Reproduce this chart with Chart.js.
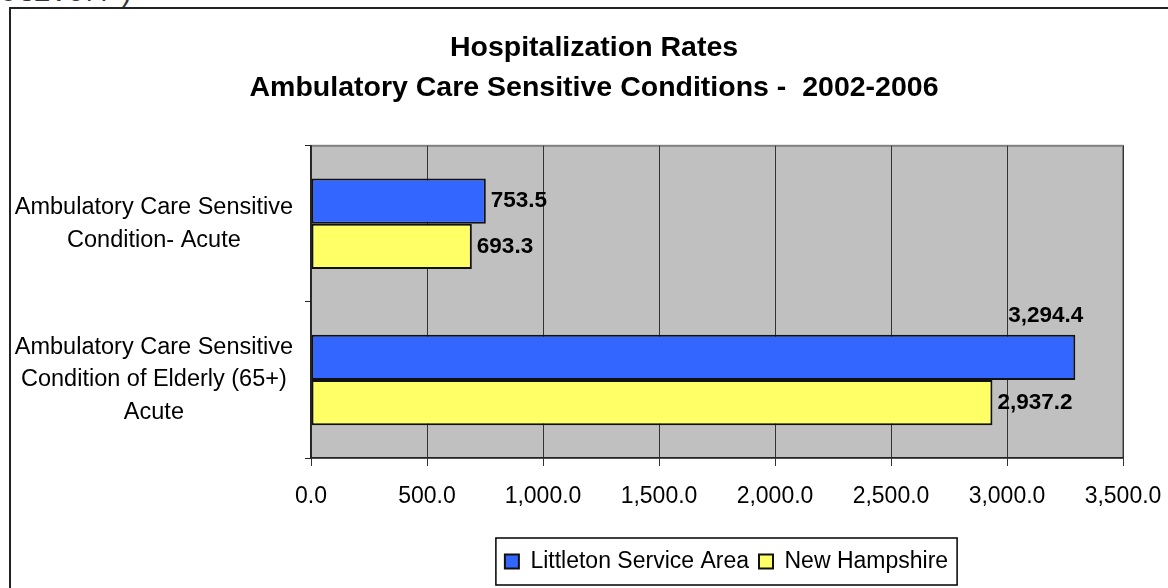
<!DOCTYPE html>
<html>
<head>
<meta charset="utf-8">
<script src="https://cdn.jsdelivr.net/npm/chart.js@4.4.0/dist/chart.umd.min.js"></script>
<style>
body{margin:0;background:#fff;overflow:hidden;width:1168px;height:588px;position:relative;font-family:Arial,"Liberation Sans",sans-serif}
#cut{position:absolute;left:0;top:-22px;font:28px "Liberation Mono",monospace;color:#333;white-space:nowrap}
#frame{position:absolute;left:9px;top:7px;width:1200px;height:700px;border-left:2px solid #222;border-top:2px solid #222}
#chart{position:absolute;left:0;top:0}
</style>
</head>
<body>
<div id="cut">otiver/)</div>
<div id="frame"></div>
<canvas id="chart" width="1168" height="588"></canvas>
<script>
// chart data
var categories = [
  ["Ambulatory Care Sensitive", "Condition- Acute"],
  ["Ambulatory Care Sensitive", "Condition of Elderly (65+)", "Acute"]
];
var seriesNames = ["Littleton Service Area", "New Hampshire"];
var littleton = [753.5, 3294.4];
var newHampshire = [693.3, 2937.2];
var tickValues = [0, 500, 1000, 1500, 2000, 2500, 3000, 3500];
var titleLines = ["Hospitalization Rates", "Ambulatory Care Sensitive Conditions -  2002-2006"];

var FONT = 'Arial, "Liberation Sans", sans-serif';

function fmt(v) {
  return Number(v).toLocaleString('en-US', {minimumFractionDigits: 1, maximumFractionDigits: 1});
}

// gray plot area behind the bars
var plotBg = {
  id: 'plotBg',
  beforeDraw: function(chart) {
    var a = chart.chartArea, ctx = chart.ctx;
    ctx.save();
    ctx.fillStyle = '#C0C0C0';
    ctx.fillRect(a.left, a.top, a.right - a.left, a.bottom - a.top);
    ctx.strokeStyle = '#808080';
    ctx.lineWidth = 2;
    ctx.strokeRect(a.left, a.top, a.right - a.left, a.bottom - a.top);
    ctx.restore();
  }
};

// legend under the plot, boxed; title re-centred on the frame
var legendBox = {
  id: 'legendBox',
  afterLayout: function(chart) {
    var lg = chart.legend;
    lg.left = 285; lg.right = 1168; lg.width = lg.right - lg.left;
    var tb = chart.titleBlock;
    tb.left = 20; tb.right = 1168; tb.width = tb.right - tb.left;
  },
  afterDraw: function(chart) {
    var boxes = chart.legend.legendHitBoxes;
    if (!boxes || !boxes.length) return;
    var l = Infinity, r = -Infinity, t = Infinity, b = -Infinity;
    boxes.forEach(function(h) {
      l = Math.min(l, h.left); r = Math.max(r, h.left + h.width);
      t = Math.min(t, h.top); b = Math.max(b, h.top + h.height);
    });
    var ctx = chart.ctx;
    ctx.save();
    ctx.strokeStyle = '#000';
    ctx.lineWidth = 1.5;
    ctx.strokeRect(l - 9, t - 12, (r - l) + 18, (b - t) + 24);
    ctx.restore();
  }
};

// value labels at bar ends
var valueLabels = {
  id: 'valueLabels',
  afterDatasetsDraw: function(chart) {
    var ctx = chart.ctx, area = chart.chartArea;
    ctx.save();
    ctx.font = 'bold 22.5px ' + FONT;
    ctx.fillStyle = '#000';
    ctx.textBaseline = 'middle';
    ctx.textAlign = 'left';
    chart.data.datasets.forEach(function(ds, i) {
      chart.getDatasetMeta(i).data.forEach(function(bar, j) {
        var txt = fmt(ds.data[j]);
        var w = ctx.measureText(txt).width;
        var x = bar.x + 5, y = bar.y;
        if (x + w > area.right - 10) {
          x = bar.x - w + 8;
          y = bar.y - bar.height / 2 - 19;
        }
        ctx.fillText(txt, x, y);
      });
    });
    ctx.restore();
  }
};

var config = {
  type: 'bar',
  data: {
    labels: categories,
    datasets: [{
      label: seriesNames[0],
      data: littleton,
      backgroundColor: '#3366FF',
      borderColor: '#111',
      borderWidth: 2,
      borderSkipped: false,
      categoryPercentage: 0.58,
      barPercentage: 1
    }, {
      label: seriesNames[1],
      data: newHampshire,
      backgroundColor: '#FFFF66',
      borderColor: '#111',
      borderWidth: 2,
      borderSkipped: false,
      categoryPercentage: 0.58,
      barPercentage: 1
    }]
  },
  options: {
    indexAxis: 'y',
    responsive: false,
    animation: false,
    layout: {padding: {top: 0, right: 45, bottom: 5, left: 0}},
    plugins: {
      title: {
        display: true,
        text: titleLines,
        color: '#000',
        font: {family: FONT, size: 28.5, weight: 'bold', lineHeight: 1.4},
        padding: {top: 28, bottom: 38}
      },
      legend: {
        display: true,
        position: 'bottom',
        labels: {
          color: '#000',
          font: {family: FONT, size: 23},
          boxWidth: 14,
          boxHeight: 14,
          padding: 10
        }
      },
      tooltip: {enabled: false}
    },
    scales: {
      x: {
        min: 0,
        max: 3500,
        afterBuildTicks: function(scale) {
          scale.ticks = tickValues.map(function(v) { return {value: v}; });
        },
        afterFit: function(scale) {
          scale.height = 82;
          scale.paddingLeft = 0;
          scale.paddingRight = 0;
        },
        grid: {color: '#333', lineWidth: 1, tickLength: 8, tickColor: '#333'},
        border: {color: '#222', width: 1.5},
        ticks: {
          color: '#000',
          font: {family: FONT, size: 23},
          padding: 17,
          maxRotation: 0,
          callback: function(v) { return fmt(v); }
        }
      },
      y: {
        afterFit: function(scale) { scale.width = 311; },
        grid: {drawOnChartArea: false, tickLength: 6, color: '#222'},
        border: {color: '#222', width: 1.5},
        ticks: {
          color: '#000',
          crossAlign: 'center',
          padding: 12,
          font: {family: FONT, size: 23.5, lineHeight: 1.38}
        }
      }
    }
  },
  plugins: [plotBg, legendBox, valueLabels]
};

var ctx = document.getElementById('chart').getContext('2d');
window.myBar = new Chart(ctx, config);
</script>
</body>
</html>
